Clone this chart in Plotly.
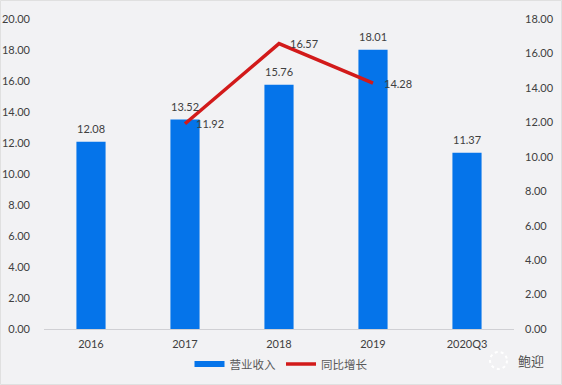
import plotly.graph_objects as go

categories = ["2016", "2017", "2018", "2019", "2020Q3"]
revenue = [12.08, 13.52, 15.76, 18.01, 11.37]
growth = [None, 11.92, 16.57, 14.28, None]
left_ticks = [0, 2, 4, 6, 8, 10, 12, 14, 16, 18, 20]
right_ticks = [0, 2, 4, 6, 8, 10, 12, 14, 16, 18]

FONT = "Lato, Noto Sans CJK SC, sans-serif"
TXT = "#404040"
BG = "#F2F2F4"
BLUE = "#0574EA"
RED = "#D21A1A"
FS = 11

fig = go.Figure()
fig.add_bar(x=categories, y=revenue, name="营业收入", width=0.31,
            marker=dict(color=BLUE, line_width=0), showlegend=False)
fig.add_scatter(x=categories, y=[None] * len(categories), name="营业收入", mode="lines",
                line=dict(color=BLUE, width=6))
fig.add_scatter(x=categories, y=growth, name="同比增长", yaxis="y2", mode="lines",
                line=dict(color=RED, width=3.5))

ann = []
for i, v in enumerate(revenue):
    ann.append(dict(x=i, y=v, text=f"{v:.2f}", showarrow=False, yshift=13,
                    font=dict(size=FS, color=TXT)))
for i, v in enumerate(growth):
    if v is not None:
        ann.append(dict(x=i, y=v, yref="y2", text=f"{v:.2f}", showarrow=False,
                        xanchor="left", xshift=9, font=dict(size=FS, color=TXT)))
ann.append(dict(text="鲍迎", xref="paper", yref="paper", x=531 / 470 - 44 / 470,
                y=(329 - 361) / 310, xanchor="center", yanchor="middle", showarrow=False,
                font=dict(size=13, color="#505050")))

fig.update_layout(
    width=562, height=385, autosize=False,
    margin=dict(l=44, r=48, t=19, b=56, autoexpand=False),
    paper_bgcolor=BG, plot_bgcolor=BG,
    font=dict(family=FONT, size=FS, color=TXT),
    showlegend=True,
    legend=dict(orientation="h", x=0.5, xref="container", xanchor="center",
                y=1 - 364 / 385, yref="container", yanchor="middle",
                font=dict(size=11.5, color="#595959"), bgcolor="rgba(0,0,0,0)",
                itemwidth=30),
    xaxis=dict(type="category", categoryorder="array", categoryarray=categories,
               range=[-0.5, 4.5], showline=True, linecolor="#D0D0D4", linewidth=1,
               ticks="", showgrid=False, ticklabelstandoff=5,
               tickfont=dict(size=FS, color=TXT)),
    yaxis=dict(range=[0, 20], tickvals=left_ticks, tickformat=".2f", showgrid=False,
               zeroline=False, ticks="", ticklabelstandoff=13,
               tickfont=dict(size=FS, color=TXT)),
    yaxis2=dict(range=[0, 18], tickvals=right_ticks, tickformat=".2f", overlaying="y",
                side="right", showgrid=False, zeroline=False, ticks="",
                ticklabelstandoff=10, tickfont=dict(size=FS, color=TXT)),
    annotations=ann,
    shapes=[
        dict(type="circle", xref="paper", yref="paper",
             x0=(490 - 44) / 470, x1=(507 - 44) / 470,
             y0=(329 - 369) / 310, y1=(329 - 352) / 310,
             line=dict(color="#FFFFFF", width=2, dash="dot")),
        dict(type="rect", xref="paper", yref="paper",
             x0=-43.5 / 470, x1=517.5 / 470, y0=-55.5 / 310, y1=328.5 / 310,
             line=dict(color="#E0E0E0", width=1)),
    ],
)
fig.write_html("out.html", config=dict(displayModeBar=False),
               post_script="document.body.style.margin='0';document.body.style.background='%s';" % BG)
